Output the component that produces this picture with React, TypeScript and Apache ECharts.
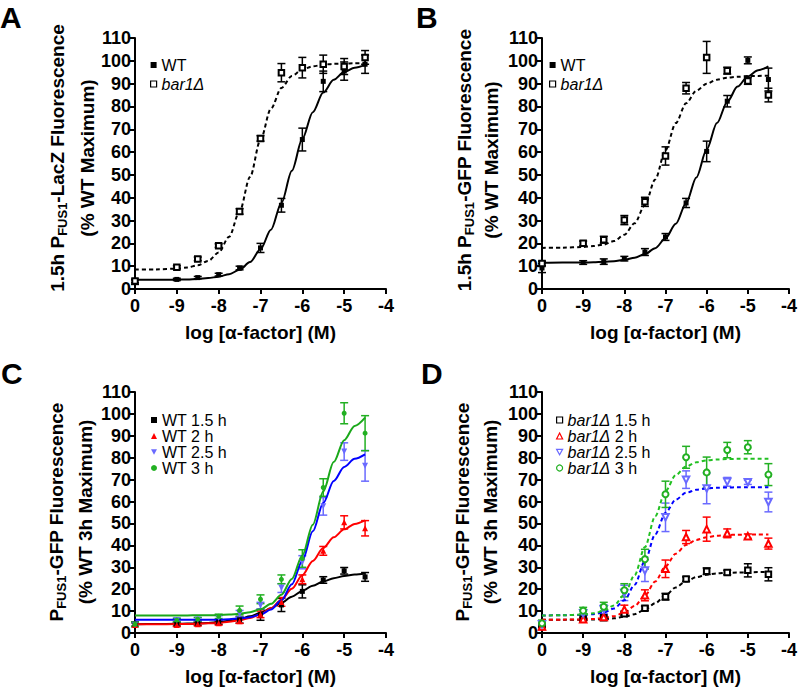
import React, { useEffect, useRef } from 'react';
import * as echarts from 'echarts';

// ---------- data ----------
const doses = [-10, -9, -8.5, -8, -7.5, -7, -6.5, -6, -5.5, -5, -4.5];
const xTickLabels = ['0', '-9', '-8', '-7', '-6', '-5', '-4'];
const curveX = [-10, -9.5, -9, -8.75, -8.5, -8.25, -8, -7.75, -7.5, -7.25, -7, -6.75, -6.5, -6.25, -6, -5.75, -5.5, -5.25, -5, -4.75, -4.5];

// Panel A
const aWT = [3, 4.2, 5, 6.3, 9.2, 18, 36.7, 65.5, 91, 95.5, 98.5];
const aWTErr = [1, 0.5, 0.5, 0.6, 0.8, 2, 3, 5, 4.5, 4, 4];
const aBar = [3.5, 9.5, 13.2, 19, 34, 66, 94.8, 97, 98.5, 97.5, 101.5];
const aBarErr = [0.8, 0.7, 0.8, 0.8, 1.2, 1.2, 4, 4.5, 4, 3.5, 3];
const aWTFit = [4.0, 4.0, 4.1, 4.2, 4.4, 4.8, 5.4, 6.5, 8.4, 11.8, 17.4, 26.0, 37.7, 51.8, 65.8, 77.5, 86.1, 91.7, 95.1, 97.0, 98.1];
const aBarFit = [8.5, 8.6, 8.9, 9.4, 10.4, 12.3, 16.0, 22.9, 34.0, 49.1, 65.4, 79.0, 88.1, 93.4, 96.2, 97.6, 98.3, 98.7, 98.8, 98.9, 99.0];

// Panel B
const bWT = [9.2, 11.6, 12, 13.3, 16.2, 22.8, 37.7, 60.3, 82.3, 100.2, 91.8];
const bWTErr = [2, 0.8, 1.2, 1, 1.5, 1.5, 2, 4.5, 2.5, 1.5, 5];
const bBar = [11.2, 20, 21.6, 30.2, 38.2, 58.3, 88, 101.5, 95.7, 91.2, 85];
const bBarErr = [1, 1, 1.5, 2, 2, 4, 2.5, 7, 1.5, 1.5, 3];
const bWTFit = [11.5, 11.6, 11.6, 11.7, 11.9, 12.2, 12.8, 13.7, 15.3, 17.9, 22.2, 28.6, 37.6, 48.9, 61.1, 72.7, 82.0, 88.7, 93.2, 95.9, 97.6];
const bBarFit = [18.0, 18.1, 18.4, 18.8, 19.5, 21.0, 23.8, 28.8, 36.8, 48.0, 60.9, 72.7, 81.4, 86.9, 90.0, 91.7, 92.6, 93.0, 93.3, 93.4, 93.5];

// Panel C (WT time course)
const c15 = [4, 4, 4.3, 5, 6, 8.3, 12.8, 19, 24.2, 28.4, 25.6];
const c15Err = [1, 0.8, 0.8, 1, 1.5, 2.5, 3, 3, 1.5, 1.5, 2];
const c2 = [3.7, 3.7, 4, 4.4, 5.4, 8.5, 14.2, 24.5, 37.5, 50.5, 47.8];
const c2Err = [0.8, 0.8, 0.8, 0.8, 1, 1.5, 2, 2, 2, 3, 3.5];
const c25 = [3.8, 5.9, 6.2, 6.9, 8.8, 12.5, 20.5, 32.3, 57.8, 82.8, 76.3];
const c25Err = [0.8, 0.8, 0.8, 1, 1.5, 1.5, 2, 3, 4, 4, 7];
const c3 = [4, 5.9, 6.3, 7.6, 10.3, 15.4, 24.5, 34, 66.4, 100.3, 91.2];
const c3Err = [1, 0.8, 0.8, 1, 2, 2, 2, 4, 4, 4.8, 8];
const c15Fit = [4.0, 4.1, 4.2, 4.3, 4.4, 4.6, 5.0, 5.6, 6.4, 7.6, 9.2, 11.3, 13.8, 16.6, 19.2, 21.6, 23.5, 25.0, 26.0, 26.7, 27.2];
const c2Fit = [4.0, 4.0, 4.1, 4.1, 4.2, 4.4, 4.6, 5.1, 5.8, 6.9, 8.6, 11.3, 15.2, 20.2, 26.4, 32.9, 38.8, 43.7, 47.3, 49.8, 51.4];
const c25Fit = [6.0, 6.0, 6.0, 6.0, 6.0, 6.1, 6.1, 6.3, 6.6, 7.2, 8.4, 10.7, 14.9, 22.2, 33.0, 46.4, 59.3, 69.4, 75.8, 79.5, 81.5];
const c3Fit = [8.0, 8.0, 8.0, 8.0, 8.1, 8.1, 8.2, 8.4, 8.8, 9.5, 10.8, 13.3, 17.5, 24.7, 35.4, 49.4, 64.6, 78.0, 88.0, 94.5, 98.3];

// Panel D (bar1Δ time course)
const d15 = [3.7, 6.3, 7, 8.8, 11.3, 16.6, 24.6, 28.2, 27.6, 28.6, 26.8];
const d15Err = [1, 0.7, 0.7, 0.8, 1, 1.5, 1, 1.5, 1, 3, 3];
const d2 = [3, 6.3, 7.3, 10.7, 17.2, 29.3, 43.8, 47.4, 45.5, 44.2, 40.8];
const d2Err = [1.5, 0.8, 1, 2, 2.5, 4, 3, 5.5, 2, 1, 2.5];
const d25 = [4, 9, 10.8, 18.3, 28.5, 52.8, 70, 66, 69, 68.8, 59.8];
const d25Err = [1, 1, 2, 3.5, 5, 6.5, 4, 7, 2, 1, 4.5];
const d3 = [4.4, 10.2, 12, 19.5, 33.7, 63.3, 80.2, 73.3, 83.5, 84.8, 72.3];
const d3Err = [1.5, 1.5, 2, 3, 4.5, 6, 5, 7, 3.5, 3, 5];
const d15Fit = [6.0, 6.0, 6.1, 6.2, 6.4, 6.7, 7.4, 8.6, 10.6, 13.6, 17.2, 20.8, 23.6, 25.5, 26.6, 27.2, 27.5, 27.6, 27.7, 27.8, 27.8];
const d2Fit = [6.0, 6.1, 6.2, 6.4, 6.9, 7.7, 9.4, 12.3, 17.1, 23.5, 30.4, 36.2, 40.2, 42.5, 43.7, 44.4, 44.7, 44.9, 44.9, 45.0, 45.0];
const d25Fit = [8.0, 8.1, 8.3, 8.6, 9.4, 11.2, 14.9, 22.0, 32.8, 45.0, 54.9, 60.9, 64.0, 65.4, 66.0, 66.3, 66.4, 66.5, 66.5, 66.5, 66.5];
const d3Fit = [8.0, 8.1, 8.4, 9.0, 10.1, 12.6, 17.5, 26.4, 39.2, 53.3, 64.8, 72.1, 76.0, 77.9, 78.8, 79.2, 79.4, 79.5, 79.5, 79.5, 79.5];

const FONT = 'Liberation Sans, Arial, Helvetica, sans-serif';
const DOWN_TRI = 'path://M0,0 L10,0 L5,9 Z';

// ---------- option builders ----------
function errSeries(g: number, ys: number[], errs: number[], color: string) {
  return {
    type: 'custom',
    xAxisIndex: g,
    yAxisIndex: g,
    z: 2,
    silent: true,
    clip: false,
    encode: { x: 0, y: 1 },
    data: doses.map((x, i) => [x, ys[i], errs[i]]),
    renderItem: (params: any, api: any) => {
      const x = api.value(0);
      const y = api.value(1);
      const e = api.value(2);
      const t = api.coord([x, y + e]);
      const b = api.coord([x, y - e]);
      const w = 4;
      const st = { stroke: color, lineWidth: 1.5 };
      return {
        type: 'group',
        children: [
          { type: 'line', shape: { x1: t[0], y1: t[1], x2: b[0], y2: b[1] }, style: st },
          { type: 'line', shape: { x1: t[0] - w, y1: t[1], x2: t[0] + w, y2: t[1] }, style: st },
          { type: 'line', shape: { x1: b[0] - w, y1: b[1], x2: b[0] + w, y2: b[1] }, style: st },
        ],
      };
    },
  };
}

function dotSeries(g: number, name: string, ys: number[], symbol: string, color: string, size: number, rotate = 0) {
  const hollow = symbol.startsWith('empty');
  return {
    type: 'scatter',
    name,
    xAxisIndex: g,
    yAxisIndex: g,
    z: 4,
    symbol,
    symbolSize: size,
    symbolRotate: rotate,
    itemStyle: { color, borderColor: color, borderWidth: hollow ? 1.1 : 0, opacity: 1 },
    data: doses.map((x, i) => [x, ys[i]]),
  };
}

function fitSeries(g: number, fit: number[], color: string, dashed: boolean) {
  return {
    type: 'line',
    xAxisIndex: g,
    yAxisIndex: g,
    z: 3,
    silent: true,
    showSymbol: false,
    symbol: 'none',
    smooth: 0.3,
    smoothMonotone: 'x',
    lineStyle: { color, width: 2, type: dashed ? [4, 3] : 'solid' },
    data: curveX.map((x, i) => [x, fit[i]]),
  };
}

const gridBoxes = [
  { left: 135, top: 38, width: 251, height: 251 },
  { left: 542, top: 38, width: 251, height: 251 },
  { left: 135, top: 392, width: 251, height: 250 },
  { left: 542, top: 392, width: 251, height: 250 },
];

function buildOption() {
  const axisCommon = {
    axisLine: { onZero: false, lineStyle: { color: '#000', width: 2 } },
    axisTick: { length: 5, lineStyle: { color: '#000', width: 2 } },
    splitLine: { show: false },
  };
  const xAxis = gridBoxes.map((_, g) => ({
    type: 'value',
    gridIndex: g,
    min: -10,
    max: -4,
    interval: 1,
    ...axisCommon,
    axisLabel: {
      color: '#000',
      fontSize: 18,
      fontWeight: 'bold',
      fontFamily: FONT,
      margin: 8,
      formatter: (v: number) => xTickLabels[Math.round(v + 10)] ?? '',
    },
    name: 'log [α-factor] (M)',
    nameLocation: 'middle',
    nameGap: 34,
    nameTextStyle: { color: '#000', fontSize: 19, fontWeight: 'bold', fontFamily: FONT },
  }));
  const yAxis = gridBoxes.map((_, g) => ({
    type: 'value',
    gridIndex: g,
    min: 0,
    max: 110,
    interval: 10,
    ...axisCommon,
    axisLabel: { color: '#000', fontSize: 18, fontWeight: 'bold', fontFamily: FONT, margin: 4 },
  }));

  const fmt = (name: string) => {
    const label = name.split('|')[1];
    if (label.startsWith('bar1Δ')) return '{i|bar1Δ}' + label.slice(5);
    return label;
  };
  const legendBase = {
    orient: 'vertical',
    selectedMode: false,
    itemWidth: 6,
    itemHeight: 6,
    itemGap: 2,
    formatter: fmt,
    textStyle: {
      color: '#000',
      fontSize: 16,
      fontFamily: FONT,
      rich: { i: { fontStyle: 'italic', fontSize: 16, fontFamily: FONT, color: '#000' } },
    },
  };
  const BLK = '#000000';
  const RED = '#ff0000';
  const BLU_M = '#6a6aff';
  const BLU_L = '#0000ff';
  const GRN_M = '#22b022';
  const GRN_L = '#1aa81a';
  const GRN_D = '#22c022';

  const hollowItem = (c: string) => ({ color: '#ffffff', borderColor: c, borderWidth: 1.2 });
  const legend = [
    { ...legendBase, left: 145, top: 52, itemGap: 3, data: [
      { name: 'A|WT', icon: 'rect' },
      { name: 'A|bar1Δ', icon: 'rect', itemStyle: hollowItem(BLK) },
    ] },
    { ...legendBase, left: 544, top: 52, itemGap: 3, data: [
      { name: 'B|WT', icon: 'rect' },
      { name: 'B|bar1Δ', icon: 'rect', itemStyle: hollowItem(BLK) },
    ] },
    { ...legendBase, left: 146, top: 407, itemGap: 0, data: [
      { name: 'C|WT 1.5 h', icon: 'rect' },
      { name: 'C|WT 2 h', icon: 'triangle' },
      { name: 'C|WT 2.5 h', icon: DOWN_TRI },
      { name: 'C|WT 3 h', icon: 'circle' },
    ] },
    { ...legendBase, left: 551, top: 407, itemGap: 0, data: [
      { name: 'D|bar1Δ 1.5 h', icon: 'rect', itemStyle: hollowItem(BLK) },
      { name: 'D|bar1Δ 2 h', icon: 'triangle', itemStyle: hollowItem(RED) },
      { name: 'D|bar1Δ 2.5 h', icon: DOWN_TRI, itemStyle: hollowItem(BLU_M) },
      { name: 'D|bar1Δ 3 h', icon: 'circle', itemStyle: hollowItem(GRN_M) },
    ] },
  ];

  const series: any[] = [
    // A
    errSeries(0, aWT, aWTErr, BLK),
    errSeries(0, aBar, aBarErr, BLK),
    fitSeries(0, aWTFit, BLK, false),
    fitSeries(0, aBarFit, BLK, true),
    dotSeries(0, 'A|WT', aWT, 'rect', BLK, 5),
    dotSeries(0, 'A|bar1Δ', aBar, 'emptyRect', BLK, 5.5),
    // B
    errSeries(1, bWT, bWTErr, BLK),
    errSeries(1, bBar, bBarErr, BLK),
    fitSeries(1, bWTFit, BLK, false),
    fitSeries(1, bBarFit, BLK, true),
    dotSeries(1, 'B|WT', bWT, 'rect', BLK, 5),
    dotSeries(1, 'B|bar1Δ', bBar, 'emptyRect', BLK, 5.5),
    // C
    errSeries(2, c15, c15Err, BLK),
    errSeries(2, c2, c2Err, RED),
    errSeries(2, c25, c25Err, BLU_M),
    errSeries(2, c3, c3Err, GRN_M),
    fitSeries(2, c15Fit, BLK, false),
    fitSeries(2, c2Fit, RED, false),
    fitSeries(2, c25Fit, BLU_L, false),
    fitSeries(2, c3Fit, GRN_L, false),
    dotSeries(2, 'C|WT 1.5 h', c15, 'rect', BLK, 5),
    dotSeries(2, 'C|WT 2 h', c2, 'triangle', RED, 6),
    dotSeries(2, 'C|WT 2.5 h', c25, 'triangle', BLU_M, 6, 180),
    dotSeries(2, 'C|WT 3 h', c3, 'circle', GRN_M, 5),
    // D
    errSeries(3, d15, d15Err, BLK),
    errSeries(3, d2, d2Err, RED),
    errSeries(3, d25, d25Err, BLU_M),
    errSeries(3, d3, d3Err, GRN_M),
    fitSeries(3, d15Fit, BLK, true),
    fitSeries(3, d2Fit, RED, true),
    fitSeries(3, d25Fit, BLU_L, true),
    fitSeries(3, d3Fit, GRN_D, true),
    dotSeries(3, 'D|bar1Δ 1.5 h', d15, 'emptyRect', BLK, 5.5),
    dotSeries(3, 'D|bar1Δ 2 h', d2, 'emptyTriangle', RED, 6.5),
    dotSeries(3, 'D|bar1Δ 2.5 h', d25, 'emptyTriangle', BLU_M, 6.5, 180),
    dotSeries(3, 'D|bar1Δ 3 h', d3, 'emptyCircle', GRN_M, 6),
  ];

  const titleStyle = (text: string) => ({
    text,
    fontSize: 19,
    fontWeight: 'bold',
    fontFamily: FONT,
    fill: '#000',
    align: 'center',
    verticalAlign: 'middle',
    rich: {
      m: { fontSize: 19, fontWeight: 'bold', fontFamily: FONT, fill: '#000', lineHeight: 24, verticalAlign: 'middle' },
      s: { fontSize: 13, fontWeight: 'bold', fontFamily: FONT, fill: '#000', lineHeight: 24, verticalAlign: 'bottom' },
    },
  });
  const rot = Math.PI / 2;
  const letter = (t: string, x: number, y: number) => ({
    type: 'text',
    x,
    y,
    style: { text: t, fontSize: 30, fontWeight: 'bold', fontFamily: FONT, fill: '#000' },
  });
  const graphic = [
    letter('A', 0, 2),
    letter('B', 416, 2),
    letter('C', 1, 358),
    letter('D', 421, 358),
    { type: 'text', x: 57, y: 158, rotation: rot, style: titleStyle('{m|1.5h P}{s|FUS1}{m|-LacZ Fluorescence}') },
    { type: 'text', x: 87, y: 158, rotation: rot, style: titleStyle('{m|(% WT Maximum)}') },
    { type: 'text', x: 464, y: 160, rotation: rot, style: titleStyle('{m|1.5h P}{s|FUS1}{m|-GFP Fluorescence}') },
    { type: 'text', x: 491, y: 160, rotation: rot, style: titleStyle('{m|(% WT Maximum)}') },
    { type: 'text', x: 56, y: 512, rotation: rot, style: titleStyle('{m|P}{s|FUS1}{m|-GFP Fluorescence}') },
    { type: 'text', x: 85, y: 512, rotation: rot, style: titleStyle('{m|(% WT 3h Maximum)}') },
    { type: 'text', x: 462, y: 512, rotation: rot, style: titleStyle('{m|P}{s|FUS1}{m|-GFP Fluorescence}') },
    { type: 'text', x: 490, y: 512, rotation: rot, style: titleStyle('{m|(% WT 3h Maximum)}') },
  ];

  return {
    animation: false,
    backgroundColor: '#ffffff',
    textStyle: { fontFamily: FONT },
    grid: gridBoxes.map((b) => ({ ...b, containLabel: false })),
    xAxis,
    yAxis,
    legend,
    series,
    graphic,
  };
}

export default function App() {
  const ref = useRef<HTMLDivElement>(null);
  useEffect(() => {
    document.body.style.margin = '0';
    if (!ref.current) return;
    const chart = echarts.init(ref.current, undefined, { renderer: 'svg' });
    chart.setOption(buildOption() as any);
    return () => chart.dispose();
  }, []);
  return <div ref={ref} style={{ width: 800, height: 687 }} />;
}
